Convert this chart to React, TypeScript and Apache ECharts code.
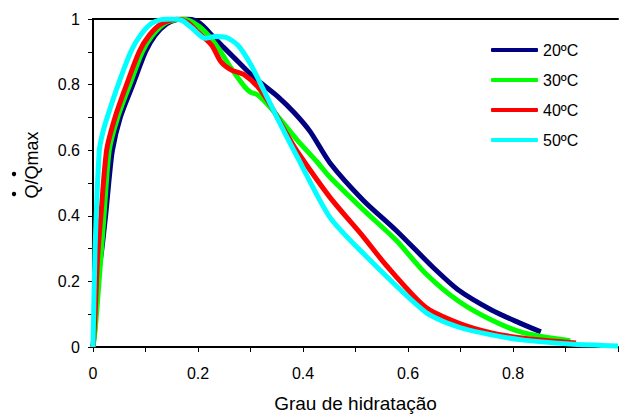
import React, { useEffect, useRef } from "react";
import * as echarts from "echarts";

const seriesNames = ["20ºC", "30ºC", "40ºC", "50ºC"];
const seriesColors = ["#000080", "#00FF00", "#FF0000", "#00FFFF"];

const x20 = [0, 0.003, 0.009, 0.017, 0.024, 0.03, 0.037, 0.052, 0.076, 0.1, 0.118, 0.14, 0.16, 0.18, 0.195, 0.21, 0.226, 0.248, 0.27, 0.295, 0.32, 0.351, 0.383, 0.414, 0.451, 0.515, 0.577, 0.647, 0.696, 0.759, 0.81, 0.853];
const y20 = [0, 0.05, 0.2, 0.3, 0.4, 0.5, 0.6, 0.7, 0.8, 0.9, 0.95, 0.985, 0.998, 1, 0.995, 0.978, 0.951, 0.915, 0.88, 0.84, 0.805, 0.765, 0.715, 0.656, 0.562, 0.447, 0.356, 0.244, 0.174, 0.113, 0.075, 0.046];

const x30 = [0, 0.004, 0.012, 0.021, 0.031, 0.047, 0.07, 0.094, 0.113, 0.14, 0.17, 0.19, 0.214, 0.239, 0.263, 0.289, 0.3, 0.314, 0.338, 0.37, 0.389, 0.427, 0.451, 0.515, 0.577, 0.633, 0.696, 0.759, 0.821, 0.909];
const y30 = [0, 0.05, 0.21, 0.4, 0.6, 0.7, 0.8, 0.9, 0.95, 0.99, 1, 0.99, 0.96, 0.91, 0.85, 0.793, 0.777, 0.768, 0.73, 0.668, 0.631, 0.564, 0.518, 0.418, 0.326, 0.225, 0.14, 0.082, 0.043, 0.019];

const x40 = [0, 0.004, 0.009, 0.015, 0.026, 0.042, 0.064, 0.088, 0.107, 0.13, 0.16, 0.18, 0.2, 0.226, 0.244, 0.263, 0.289, 0.314, 0.338, 0.37, 0.389, 0.451, 0.515, 0.558, 0.633, 0.696, 0.759, 0.821, 0.92];
const y40 = [0, 0.1, 0.28, 0.4, 0.6, 0.7, 0.8, 0.9, 0.95, 0.985, 1, 0.99, 0.96, 0.92, 0.869, 0.845, 0.829, 0.793, 0.738, 0.646, 0.596, 0.457, 0.336, 0.25, 0.122, 0.073, 0.043, 0.027, 0.012];

const x50 = [0, 0.004, 0.012, 0.018, 0.027, 0.048, 0.072, 0.09, 0.11, 0.13, 0.15, 0.17, 0.188, 0.214, 0.233, 0.252, 0.276, 0.301, 0.327, 0.351, 0.389, 0.451, 0.515, 0.633, 0.696, 0.759, 0.821, 0.909, 1];
const y50 = [0, 0.3, 0.6, 0.65, 0.7, 0.8, 0.9, 0.95, 0.985, 0.998, 1, 0.995, 0.973, 0.941, 0.947, 0.945, 0.92, 0.86, 0.777, 0.698, 0.58, 0.396, 0.285, 0.107, 0.061, 0.037, 0.021, 0.009, 0.003];

const xSets = [x20, x30, x40, x50];
const ySets = [y20, y30, y40, y50];

const xTitle = "Grau de hidratação";
const yTitle = "Q/Qmax";

const FONT = "'Liberation Sans', Arial, sans-serif";

const tickFmt = (skipOne: boolean) => (v: number) => {
  const k = Math.round(v * 10);
  if (k % 2 !== 0) return "";
  if (k === 10) return skipOne ? "" : "1";
  if (k === 0) return "0";
  return (k / 10).toString();
};

export default function App() {
  const ref = useRef<HTMLDivElement>(null);
  useEffect(() => {
    if (!ref.current) return;
    const chart = echarts.init(ref.current, null, { renderer: "svg" });
    const option: any = {
      animation: false,
      textStyle: { fontFamily: FONT },
      grid: { left: 93, top: 19, right: -4, bottom: 73 },
      xAxis: [
        {
          type: "value",
          min: 0,
          max: 1,
          interval: 0.1,
          position: "bottom",
          axisLine: { show: true, lineStyle: { color: "#000", width: 2 } },
          axisTick: { show: true, length: 5, lineStyle: { color: "#000", width: 1 } },
          axisLabel: { formatter: tickFmt(true), fontSize: 16, color: "#000", margin: 18, fontFamily: FONT },
          splitLine: { show: false },
          name: xTitle,
          nameLocation: "middle",
          nameGap: 47,
          nameTextStyle: { fontSize: 19, color: "#000", fontFamily: FONT },
        },
        {
          type: "value",
          min: 0,
          max: 1,
          position: "top",
          axisLine: { show: true, lineStyle: { color: "#000", width: 2 } },
          axisTick: { show: false },
          axisLabel: { show: false },
          splitLine: { show: false },
        },
      ],
      yAxis: {
        type: "value",
        min: 0,
        max: 1,
        interval: 0.1,
        axisLine: { show: true, lineStyle: { color: "#000", width: 2 } },
        axisTick: { show: true, length: 5, lineStyle: { color: "#000", width: 1 } },
        axisLabel: { formatter: tickFmt(false), fontSize: 16, color: "#000", margin: 13, fontFamily: FONT },
        splitLine: { show: false },
      },
      legend: {
        orient: "vertical",
        left: 486,
        top: 36,
        itemWidth: 47,
        itemHeight: 4,
        itemGap: 12,
        icon: "roundRect",
        textStyle: { fontSize: 16, color: "#000", lineHeight: 18, fontFamily: FONT },
        data: seriesNames,
      },
      graphic: [
        {
          type: "text",
          x: 32,
          y: 165,
          rotation: Math.PI / 2,
          style: {
            text: yTitle,
            fontSize: 18,
            fontFamily: FONT,
            fill: "#000",
            align: "center",
            verticalAlign: "middle",
          },
        },
        { type: "circle", shape: { cx: 14, cy: 174, r: 2.2 }, style: { fill: "#000" } },
        { type: "circle", shape: { cx: 14, cy: 194, r: 2.2 }, style: { fill: "#000" } },
      ],
      series: seriesNames.map((name, i) => ({
        name,
        type: "line",
        xAxisIndex: 0,
        data: xSets[i].map((x, j) => [x, ySets[i][j]]),
        showSymbol: false,
        symbol: "none",
        smooth: 0.25,
        lineStyle: { color: seriesColors[i], width: 5 },
        itemStyle: { color: seriesColors[i] },
      })),
    };
    chart.setOption(option);
    return () => chart.dispose();
  }, []);
  return (
    <div
      ref={ref}
      style={{ position: "absolute", left: 0, top: 0, width: 621, height: 420 }}
    />
  );
}
